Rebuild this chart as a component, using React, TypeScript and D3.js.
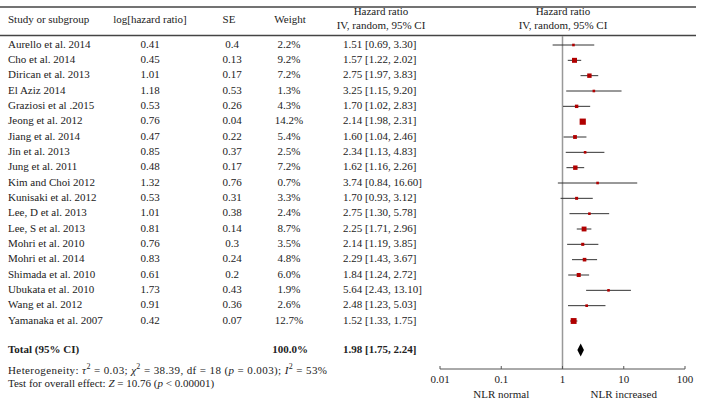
import React from "react";
import * as d3 from "d3";

const studies = [
  "Aurello et al. 2014", "Cho et al. 2014", "Dirican et al. 2013", "El Aziz 2014",
  "Graziosi et al .2015", "Jeong et al. 2012", "Jiang et al. 2014", "Jin et al. 2013",
  "Jung et al. 2011", "Kim and Choi 2012", "Kunisaki et al. 2012", "Lee, D et al. 2013",
  "Lee, S et al. 2013", "Mohri et al. 2010", "Mohri et al. 2014", "Shimada et al. 2010",
  "Ubukata et al. 2010", "Wang et al. 2012", "Yamanaka et al. 2007",
];
const logHR = ["0.41", "0.45", "1.01", "1.18", "0.53", "0.76", "0.47", "0.85", "0.48", "1.32", "0.53", "1.01", "0.81", "0.76", "0.83", "0.61", "1.73", "0.91", "0.42"];
const seVals = ["0.4", "0.13", "0.17", "0.53", "0.26", "0.04", "0.22", "0.37", "0.17", "0.76", "0.31", "0.38", "0.14", "0.3", "0.24", "0.2", "0.43", "0.36", "0.07"];
const weights = [2.2, 9.2, 7.2, 1.3, 4.3, 14.2, 5.4, 2.5, 7.2, 0.7, 3.3, 2.4, 8.7, 3.5, 4.8, 6.0, 1.9, 2.6, 12.7];
const hr = [1.51, 1.57, 2.75, 3.25, 1.70, 2.14, 1.60, 2.34, 1.62, 3.74, 1.70, 2.75, 2.25, 2.14, 2.29, 1.84, 5.64, 2.48, 1.52];
const lo = [0.69, 1.22, 1.97, 1.15, 1.02, 1.98, 1.04, 1.13, 1.16, 0.84, 0.93, 1.30, 1.71, 1.19, 1.43, 1.24, 2.43, 1.23, 1.33];
const hi = [3.30, 2.02, 3.83, 9.20, 2.83, 2.31, 2.46, 4.83, 2.26, 16.60, 3.12, 5.78, 2.96, 3.85, 3.67, 2.72, 13.10, 5.03, 1.75];
const total = { hr: 1.98, lo: 1.75, hi: 2.24, weight: "100.0%" };
const axisTicks = [0.01, 0.1, 1, 10, 100];
const axisTickLabels = ["0.01", "0.1", "1", "10", "100"];

const FONT = "'Liberation Serif', 'DejaVu Serif', serif";
const fs = 11;

export default function App() {
  const x = d3.scaleLog().domain([0.01, 100]).range([440, 685]);
  const y = d3.scaleLinear().domain([0, 18]).range([45, 321]);
  const sizeScale = d3.scaleSqrt().domain([0, 14.2]).range([0, 6.2]);
  const totalY = 350;
  const axisY = 369;
  const fmt = (v: number) => v.toFixed(2);
  const diamond = `M${x(total.lo)},${totalY} L${x(total.hr)},${totalY - 6.5} L${x(total.hi)},${totalY} L${x(total.hr)},${totalY + 6.5} Z`;

  return (
    <svg width={703} height={410} style={{ position: "absolute", left: 0, top: 0, background: "#fff" }}
      fontFamily={FONT} fontSize={fs} fill="#222">
      <line x1={0} x2={696} y1={7} y2={7} stroke="#444" strokeWidth={1.5} />
      <line x1={0} x2={696} y1={35.5} y2={35.5} stroke="#444" strokeWidth={1.5} />

      <text x={8} y={20} dominantBaseline="middle">Study or subgroup</text>
      <text x={150} y={20} dominantBaseline="middle" textAnchor="middle">log[hazard ratio]</text>
      <text x={229} y={20} dominantBaseline="middle" textAnchor="middle">SE</text>
      <text x={290} y={20} dominantBaseline="middle" textAnchor="middle">Weight</text>
      <text x={381} y={12.5} dominantBaseline="middle" textAnchor="middle">Hazard ratio</text>
      <text x={381} y={26} dominantBaseline="middle" textAnchor="middle">IV, random, 95% CI</text>
      <text x={563} y={12.5} dominantBaseline="middle" textAnchor="middle">Hazard ratio</text>
      <text x={563} y={26} dominantBaseline="middle" textAnchor="middle">IV, random, 95% CI</text>

      <line x1={x(1)} x2={x(1)} y1={36} y2={axisY} stroke="#999" strokeWidth={1.5} />

      {studies.map((s, i) => {
        const yy = y(i);
        const sz = Math.max(2.6, sizeScale(weights[i]));
        return (
          <g key={s}>
            <text x={8} y={yy} dominantBaseline="middle">{s}</text>
            <text x={150} y={yy} dominantBaseline="middle" textAnchor="middle">{logHR[i]}</text>
            <text x={232} y={yy} dominantBaseline="middle" textAnchor="middle">{seVals[i]}</text>
            <text x={289} y={yy} dominantBaseline="middle" textAnchor="middle">{weights[i].toFixed(1)}%</text>
            <text x={343} y={yy} dominantBaseline="middle">{`${fmt(hr[i])} [${fmt(lo[i])}, ${fmt(hi[i])}]`}</text>
            <line x1={x(lo[i])} x2={x(hi[i])} y1={yy} y2={yy} stroke="#333" strokeWidth={1} />
            <rect x={x(hr[i]) - sz / 2} y={yy - sz / 2} width={sz} height={sz} fill="#b00000" />
          </g>
        );
      })}

      <text x={8} y={totalY} dominantBaseline="middle" fontWeight="bold">Total (95% CI)</text>
      <text x={290} y={totalY} dominantBaseline="middle" textAnchor="middle" fontWeight="bold">{total.weight}</text>
      <text x={343} y={totalY} dominantBaseline="middle" fontWeight="bold">{`${fmt(total.hr)} [${fmt(total.lo)}, ${fmt(total.hi)}]`}</text>
      <path d={diamond} fill="#000" />

      <text x={8} y={371} dominantBaseline="middle" textLength={319} lengthAdjust="spacing">
        Heterogeneity: <tspan fontStyle="italic">τ</tspan><tspan fontSize={8} dy={-4}>2</tspan><tspan dy={4}> = 0.03; </tspan>
        <tspan fontStyle="italic">χ</tspan><tspan fontSize={8} dy={-4}>2</tspan><tspan dy={4}> = 38.39, df = 18 (</tspan>
        <tspan fontStyle="italic">p</tspan><tspan> = 0.003); </tspan>
        <tspan fontStyle="italic">I</tspan><tspan fontSize={8} dy={-4}>2</tspan><tspan dy={4}> = 53%</tspan>
      </text>
      <text x={8} y={384} dominantBaseline="middle">
        Test for overall effect: <tspan fontStyle="italic">Z</tspan> = 10.76 (<tspan fontStyle="italic">p</tspan> {"<"} 0.00001)
      </text>

      <line x1={x(0.01)} x2={x(100)} y1={axisY} y2={axisY} stroke="#555" strokeWidth={1} />
      {axisTicks.map((t, i) => (
        <g key={t}>
          <line x1={x(t)} x2={x(t)} y1={axisY - 3} y2={axisY} stroke="#555" strokeWidth={1} />
          <text x={x(t)} y={380} dominantBaseline="middle" textAnchor="middle">{axisTickLabels[i]}</text>
        </g>
      ))}
      <text x={x(0.1)} y={395} dominantBaseline="middle" textAnchor="middle">NLR normal</text>
      <text x={x(10)} y={395} dominantBaseline="middle" textAnchor="middle">NLR increased</text>
    </svg>
  );
}
